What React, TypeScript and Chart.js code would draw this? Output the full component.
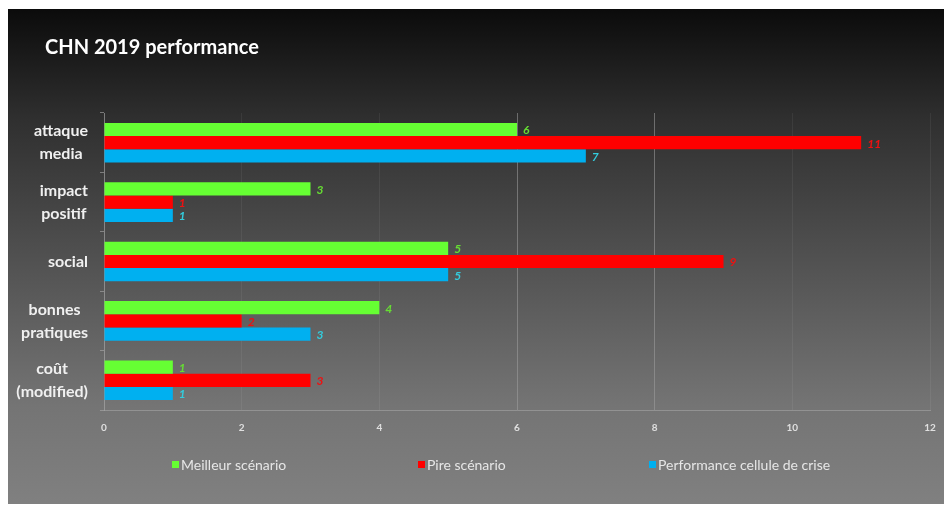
import React, { useEffect, useRef } from "react";
import { Chart, registerables } from "chart.js";

Chart.register(...registerables);

const categories: string[][] = [
  ["attaque", "media"],
  ["impact", "positif"],
  ["social"],
  ["bonnes", "pratiques"],
  ["coût", "(modified)"],
];
const meilleur = [6, 3, 5, 4, 1];
const pire = [11, 1, 9, 2, 3];
const performance = [7, 1, 5, 3, 1];
const seriesNames = ["Meilleur scénario", "Pire scénario", "Performance cellule de crise"];
const barColors = ["#66ff33", "#ff0000", "#00b0f0"];
const labelColors = ["#66dd33", "#ee1111", "#33ccdd"];
const title = "CHN 2019 performance";
const xMin = 0;
const xMax = 12;
const xStep = 2;

const FONT = "Lato, 'Open Sans', sans-serif";

const bgPlugin = {
  id: "bg",
  beforeDraw(chart: any) {
    const { ctx, width, height } = chart;
    const g = ctx.createLinearGradient(0, 0, 0, height);
    g.addColorStop(0, "#0b0b0b");
    g.addColorStop(0.22, "#2f2f2f");
    g.addColorStop(0.8, "#747474");
    g.addColorStop(1, "#808080");
    ctx.save();
    ctx.fillStyle = g;
    ctx.fillRect(0, 0, width, height);
    ctx.restore();
  },
};

const overlayPlugin = {
  id: "overlay",
  afterDatasetsDraw(chart: any) {
    const { ctx } = chart;
    ctx.save();
    ctx.font = `italic bold 12px ${FONT}`;
    ctx.textBaseline = "middle";
    ctx.textAlign = "left";
    chart.data.datasets.forEach((ds: any, i: number) => {
      const meta = chart.getDatasetMeta(i);
      meta.data.forEach((el: any, j: number) => {
        ctx.fillStyle = labelColors[i];
        ctx.fillText(String(ds.data[j]), el.x + 6, el.y + 1);
      });
    });
    ctx.restore();
  },
  afterDraw(chart: any) {
    const { ctx } = chart;
    ctx.save();
    // category labels: block right-aligned, lines centred within block
    const yScale = chart.scales.y;
    ctx.font = `bold 16px ${FONT}`;
    ctx.fillStyle = "#f0f0f0";
    ctx.textBaseline = "middle";
    ctx.textAlign = "center";
    const labels = chart.data.labels as string[][];
    labels.forEach((lines: string[], i: number) => {
      const y = yScale.getPixelForValue(i);
      const w = Math.max(...lines.map((l) => ctx.measureText(l).width));
      const cx = 80 - w / 2;
      lines.forEach((l, k) => {
        ctx.fillText(l, cx, y + (k - (lines.length - 1) / 2) * 23);
      });
    });
    // title
    ctx.font = `bold 20px ${FONT}`;
    ctx.fillStyle = "#ffffff";
    ctx.textAlign = "left";
    ctx.fillText(title, 37, 39);
    // legend
    const legendX = [164, 410, 641];
    const ly = 456;
    ctx.font = `14px ${FONT}`;
    chart.data.datasets.forEach((ds: any, i: number) => {
      ctx.fillStyle = barColors[i];
      ctx.fillRect(legendX[i], ly - 4, 7, 7);
      ctx.fillStyle = "#e6e6e6";
      ctx.fillText(ds.label, legendX[i] + 9, ly);
    });
    ctx.restore();
  },
};

export default function App() {
  const ref = useRef<HTMLCanvasElement>(null);
  useEffect(() => {
    if (!ref.current) return;
    const chart = new Chart(ref.current, {
      type: "bar",
      data: {
        labels: categories as any,
        datasets: [meilleur, pire, performance].map((d, i) => ({
          label: seriesNames[i],
          data: d,
          backgroundColor: barColors[i],
          borderWidth: 0,
          categoryPercentage: 0.667,
          barPercentage: 1,
        })),
      },
      options: {
        indexAxis: "y",
        animation: false,
        responsive: false,
        layout: { padding: { top: 104, right: 22, left: 0, bottom: 0 } },
        plugins: {
          legend: { display: false },
          title: { display: false },
          tooltip: { enabled: false },
        },
        scales: {
          x: {
            min: xMin,
            max: xMax,
            ticks: {
              stepSize: xStep,
              color: "#e0e0e0",
              font: { family: FONT, size: 10, weight: "bold" },
              padding: 12,
            },
            grid: {
              drawTicks: false,
              color: (c: any) =>
                c.tick && (c.tick.value === 6 || c.tick.value === 8)
                  ? "rgba(160,160,160,0.55)"
                  : "rgba(255,255,255,0.06)",
              lineWidth: 1,
            },
            border: { display: true, color: "rgba(200,200,200,0.35)" },
            afterFit: (s: any) => {
              s.height = 94;
            },
          },
          y: {
            ticks: {
              display: false,
            },
            grid: {
              drawOnChartArea: false,
              tickLength: 4,
              color: "rgba(170,170,170,0.6)",
            },
            border: { display: true, color: "rgba(170,170,170,0.6)" },
            afterFit: (s: any) => {
              s.width = 96;
            },
          },
        },
      },
      plugins: [bgPlugin, overlayPlugin],
    });
    return () => chart.destroy();
  }, []);
  return (
    <div style={{ width: 944, height: 495, marginTop: 1 }}>
      <canvas ref={ref} width={944} height={495} style={{ display: "block" }} />
    </div>
  );
}
